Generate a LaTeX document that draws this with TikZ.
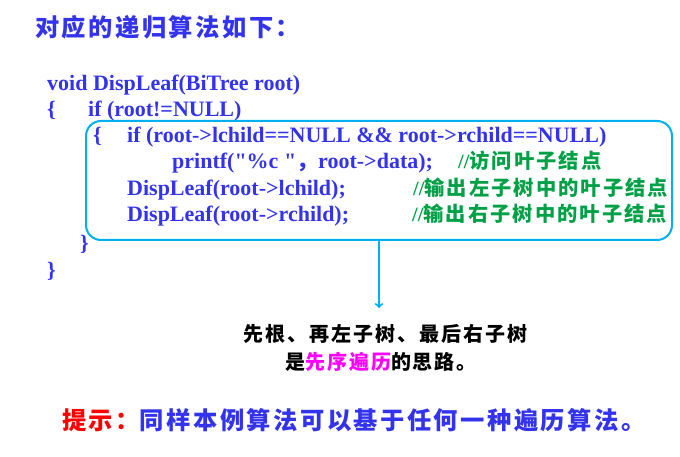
\documentclass[tikz,border=0pt]{standalone}
\usepackage{fontspec}
\setmainfont{Liberation Serif}[Ligatures=TeXOff]
\newfontfamily\cjk{Noto Sans CJK SC}[LetterSpace=10]
\definecolor{codeblue}{RGB}{51,51,238}
\definecolor{cgreen}{RGB}{0,160,70}
\definecolor{boxcyan}{RGB}{0,176,240}
\definecolor{pink}{RGB}{255,0,255}
\newcommand{\ZH}[1]{{\cjk #1}}
\newcommand{\CM}[1]{//\ZH{#1}}

\begin{document}
\begin{tikzpicture}[x=1pt, y=-1pt,
  code/.style={anchor=base west, inner sep=0pt, text=codeblue,
    font=\fontsize{22}{26}\selectfont\bfseries},
  note/.style={anchor=base west, inner sep=0pt, text=cgreen,
    font=\fontsize{20.3}{24}\selectfont\bfseries},
  head/.style={anchor=base west, inner sep=0pt, text=codeblue,
    font=\fontsize{24.3}{28}\selectfont\bfseries},
  idea/.style={anchor=base, inner sep=0pt, text=black,
    font=\fontsize{20}{24}\selectfont\bfseries},
  codebox/.style={draw=boxcyan, line width=2pt, rounded corners=15pt,
    minimum width=586pt, minimum height=119pt, inner sep=0pt},
  flow/.style={draw=boxcyan, line width=2pt, ->}]

  \useasboundingbox (0,0) rectangle (680,457);

  \node[head] (title) at (35,37) {\ZH{对应的递归算法如下：}};

  %% function
  \node[code] (sig) at (47,91) {void DispLeaf(BiTree root)};
  \node[code] (open) at (47,117) {\{};
  \node[code] (test) at (88,117) {if (root!=NULL)};

  %% body of the if
  \node[codebox] (body) at (379,180.5) {};
  \node[code] (open2) at (93,143) {\{};
  \node[code] (leaf) at (127,143) {if (root->lchild==NULL \&\& root->rchild==NULL)};
  \node[code] (print) at (172,169) {printf("\%c "\ZH{，}root->data);};
  \node[note] (c1) at (458,169) {\CM{访问叶子结点}};
  \node[code] (left) at (127,196) {DispLeaf(root->lchild);};
  \node[note] (c2) at (413,196) {\CM{输出左子树中的叶子结点}};
  \node[code] (right) at (127,222) {DispLeaf(root->rchild);};
  \node[note] (c3) at (412,222) {\CM{输出右子树中的叶子结点}};
  \node[code] (close2) at (80,251) {\}};
  \node[code] (close) at (47,277) {\}};

  %% arrow down to the remark
  \coordinate (tip) at (379,308);
  \draw[flow] (body.south) -- (tip);

  \node[idea] (idea1) at (385,341.5) {\ZH{先根、再左子树、最后右子树}};
  \node[idea] (idea2) at (381,369.5) {\ZH{是\textcolor{pink}{先序遍历}的思路。}};

  \node[head] (hint) at (62,429) {\ZH{\textcolor{red}{提示：}同样本例算法可以基于任何一种遍历算法。}};
\end{tikzpicture}
\end{document}
